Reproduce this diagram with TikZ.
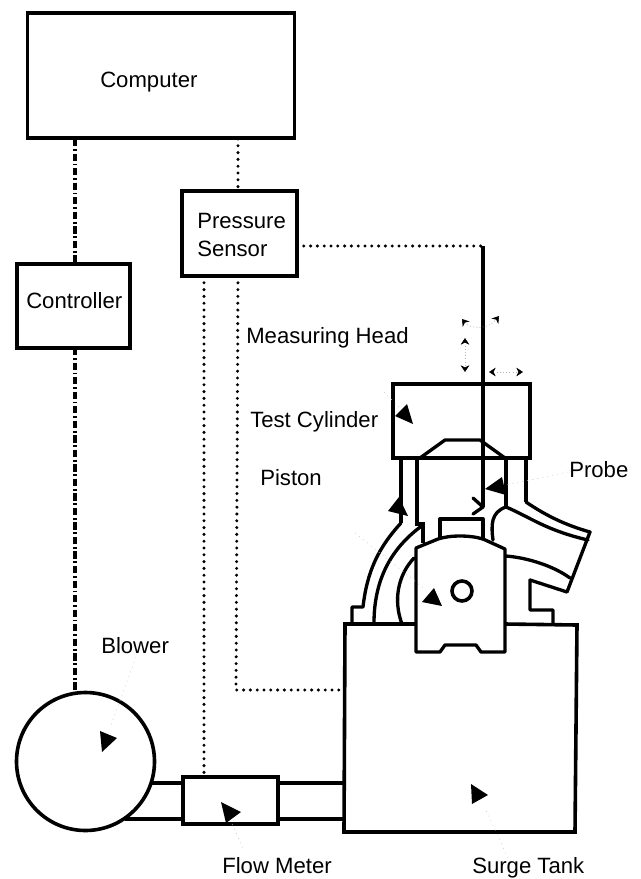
\documentclass[tikz,border=0pt]{standalone}
\usepackage{fontspec}
\setmainfont{Liberation Sans}
\usetikzlibrary{arrows.meta}
\tikzset{
  heavy/.style={line width=2.7pt,line join=miter,line cap=butt},
  medium/.style={line width=2.5pt,line join=round,line cap=round},
  sigdots/.style={line width=2.5pt,line cap=round,dash pattern=on 0pt off 5.1pt},
  dashdot/.style={line width=2.6pt,line cap=butt,dash pattern=on 5.5pt off 2pt on 1.4pt off 2pt},
  wedge/.style={fill=black,draw=none},
  leader/.style={line width=0.4pt,draw=black!20,dash pattern=on 0.8pt off 3pt},
  barb/.style={line width=0.4pt,draw=black!30,dash pattern=on 0.8pt off 1.6pt,
    {Stealth[black,inset=1.6pt,length=5pt,width=6.5pt]}-{Stealth[black,inset=1.6pt,length=5pt,width=6.5pt]}},
  lab/.style={anchor=base west,inner sep=0pt,font=\fontsize{16.6}{18}\selectfont},
  boxnode/.style={draw,heavy,inner sep=0pt,outer sep=0pt,fill=none}
}
\begin{document}
\begin{tikzpicture}[x=0.75pt,y=-0.75pt]
\useasboundingbox (0,0) rectangle (641,879);
% boxes
\node[boxnode,minimum width=200.25pt,minimum height=94pt] (computer) at (161,75.5) {};
\node[boxnode,minimum width=84.75pt,minimum height=63pt] (controller) at (73.5,306) {};
\node[boxnode,minimum width=86.25pt,minimum height=63.75pt] (sensor) at (239.5,233.5) {};
\node[boxnode,circle,minimum size=103.5pt] (blower) at (85.5,761.5) {};
\node[boxnode,minimum width=71.25pt,minimum height=35.25pt] (flow) at (230.5,800.5) {};
\node[boxnode,minimum width=102.75pt,minimum height=55.5pt] (cyl) at (461.5,421) {};
\node[boxnode,circle,minimum size=15pt] (port) at (462,591) {};
% named end points
\coordinate (cdl) at (75,139); \coordinate (ctl) at (75,264);
\coordinate (ctb) at (75,348); \coordinate (blt) at (75,692);
\coordinate (csb) at (238,139); \coordinate (set) at (238,191);
\coordinate (seba) at (204,276); \coordinate (flt) at (204,777);
\coordinate (sebb) at (238,276); \coordinate (mc) at (236,690); \coordinate (tkl) at (344,690);
\coordinate (ser) at (297,246); \coordinate (pc) at (483,246);
\coordinate (ptip) at (483,507);
% signal lines
\draw[dashdot] (cdl) -- (ctl);
\draw[dashdot] (ctb) -- (blt);
\draw[sigdots] (csb) -- (set);
\draw[sigdots] (seba) -- (flt);
\draw[sigdots] (sebb) -- (mc) -- (tkl);
\draw[sigdots] (ser) -- (pc);
% probe
\draw[heavy] (pc) -- (ptip);
\draw[medium] (473,498) -- (ptip) -- (473,514);
% pipes
\coordinate (p1) at (152,783); \coordinate (p2) at (183,783);
\coordinate (p3) at (125,819); \coordinate (p4) at (183,819);
\coordinate (p5) at (278,783); \coordinate (p6) at (344,783);
\coordinate (p7) at (278,819); \coordinate (p8) at (344,819);
\draw[heavy] (p1) -- (p2); \draw[heavy] (p3) -- (p4);
\draw[heavy] (p5) -- (p6); \draw[heavy] (p7) -- (p8);
% surge tank
\draw[heavy] (415,624) -- (345,624) -- (344,832) -- (575,832) -- (577,625) -- (505,624);
% piston
\draw[medium] (416,548) -- (416,652) -- (440,652) -- (445,645) -- (476,645) -- (481,652) -- (505,652) -- (505,549)
  -- (483,539) .. controls (470,535) and (450,535) .. (438,539) -- cycle;
\draw[medium] (440,537) -- (440,519) -- (483,519) -- (483,539);
% cylinder head & ports
\draw[medium] (420,458) -- (445,440) -- (480,440) -- (505,458);
\draw[heavy] (401,458) -- (401,523);
\draw[heavy] (417,458) -- (417,524) -- (423,524) -- (423,543);
\draw[medium] (401,523) .. controls (378,548) and (367,572) .. (363,607) -- (352,607) -- (352,624);
\draw[medium] (423,525) .. controls (395,545) and (374,575) .. (374,623);
\draw[medium] (414,558) .. controls (398,575) and (393,600) .. (402,624);
% right port
\draw[heavy] (506,458) -- (506,506);
\draw[heavy] (526,458) -- (526,502);
\draw[medium] (526,502) .. controls (545,515) and (565,525) .. (590,532) -- (567,592) -- (530,580) -- (530,610) -- (553,610) -- (553,624);
\draw[medium] (493,540) .. controls (491,525) and (491,512) .. (506,507) .. controls (530,517) and (545,530) .. (588,540);
\draw[medium] (506,556) .. controls (530,558) and (555,567) .. (570,578);
% wedges
\fill[wedge] (407,404) -- (395,416) -- (413,424) -- cycle;
\fill[wedge] (399,497) -- (388,511) -- (408,516) -- cycle;
\fill[wedge] (434,588) -- (422,602) -- (442,606) -- cycle;
\fill[wedge] (502,477) -- (485,489) -- (506,495) -- cycle;
\fill[wedge] (100,731) -- (117,738) -- (102,752) -- cycle;
\fill[wedge] (221,802) -- (241,812) -- (226,823) -- cycle;
\fill[wedge] (471,784) -- (488,795) -- (472,804) -- cycle;
% motion arrows
\coordinate (u1) at (465,338); \coordinate (u2) at (465,372);
\coordinate (h1) at (489,372); \coordinate (h2) at (523,372);
\coordinate (r1) at (462,319); \coordinate (r2) at (499,316);
\draw[barb] (u1) -- (u2);
\draw[barb] (h1) -- (h2);
\draw[barb] (r1) .. controls (470,329) and (488,330) .. (r2);
% leaders
\draw[leader] (136,657) -- (110,728);
\draw[leader] (243,848) -- (232,824);
\draw[leader] (508,858) -- (485,808);
\draw[leader] (568,472) -- (506,485);
\draw[leader] (384,392) -- (400,408);
\draw[leader] (355,533) -- (426,590);
% text
\node[lab] (tcomputer) at (100,87) {Computer};
\node[lab] (tcontroller) at (26,308) {Controller};
\node[lab] (tpressure) at (197,228) {Pressure};
\node[lab] (tsensor) at (197,256) {Sensor};
\node[lab] (tmeasuring) at (246,343) {Measuring Head};
\node[lab] (tcylinder) at (250,427) {Test Cylinder};
\node[lab] (tpiston) at (260,485) {Piston};
\node[lab] (tprobe) at (569,477) {Probe};
\node[lab] (tblower) at (101,653) {Blower};
\node[lab] (tflow) at (222,873) {Flow Meter};
\node[lab] (tsurge) at (472,873) {Surge Tank};
\end{tikzpicture}
\end{document}
